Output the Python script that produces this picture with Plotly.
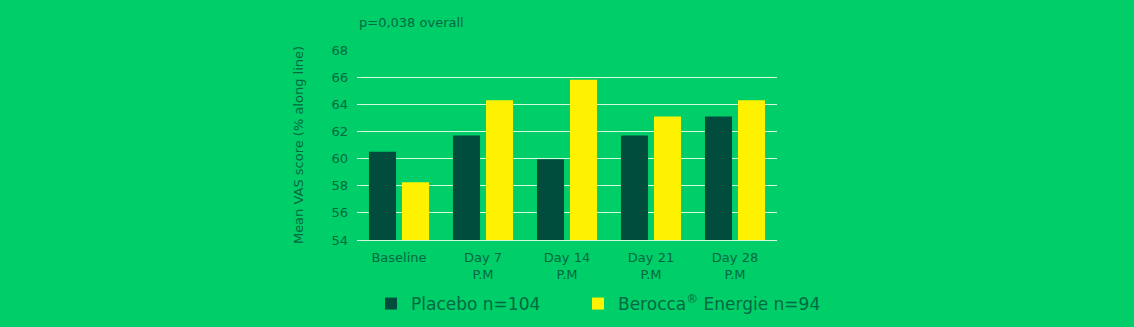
import plotly.graph_objects as go

categories = ["Baseline", "Day 7<br>P.M", "Day 14<br>P.M", "Day 21<br>P.M", "Day 28<br>P.M"]
placebo = [60.5, 61.7, 59.95, 61.7, 63.1]
berocca = [58.25, 64.3, 65.8, 63.1, 64.3]
y_ticks = [54, 56, 58, 60, 62, 64, 66, 68]

BG = "rgb(0,206,104)"
DARK = "rgb(0,77,62)"
YELLOW = "rgb(255,242,0)"
TEXT = "rgb(0,105,65)"
FONT = "DejaVu Sans"

fig = go.Figure()
fig.add_trace(go.Bar(x=categories, y=placebo, name="Placebo n=104", legend="legend",
                     marker=dict(color=DARK, line=dict(width=0))))
fig.add_trace(go.Bar(x=categories, y=berocca, name="Berocca<sup>®</sup> Energie n=94", legend="legend2",
                     marker=dict(color=YELLOW, line=dict(width=0))))

leg_common = dict(orientation="h", xref="container", yref="container", xanchor="left",
                  y=(327 - 304) / 327, yanchor="middle",
                  font=dict(size=17, color=TEXT), bgcolor="rgba(0,0,0,0)")

fig.update_layout(
    width=1134, height=327,
    paper_bgcolor=BG, plot_bgcolor=BG,
    margin=dict(l=357, r=357, t=50, b=87, pad=0, autoexpand=False),
    barmode="group", bargap=0.214, bargroupgap=0.18,
    font=dict(family=FONT, color=TEXT, size=13),
    showlegend=True,
    legend=dict(x=(385 - 14) / 1134, **leg_common),
    legend2=dict(x=(592 - 14) / 1134, **leg_common),
    annotations=[dict(text="p=0,038 overall", xref="paper", yref="paper", x=0, y=1.0,
                      xanchor="left", yanchor="bottom", yshift=18, showarrow=False,
                      font=dict(size=13, color=TEXT))],
)
fig.update_yaxes(range=[54, 68], tickvals=y_ticks, ticktext=[str(v) for v in y_ticks],
                 showgrid=True, gridcolor="rgba(235,255,240,0.9)", gridwidth=1,
                 zeroline=False, showline=False, ticks="", ticklabelstandoff=8, automargin=False,
                 tickfont=dict(size=13, color=TEXT),
                 title=dict(text="Mean VAS score (% along line)", standoff=24,
                            font=dict(size=13, color=TEXT)))
fig.update_xaxes(showgrid=False, showline=True, linecolor="rgba(235,255,240,0.9)", linewidth=1,
                 ticks="", ticklabelstandoff=5, automargin=False, tickfont=dict(size=13, color=TEXT))

fig.write_html("out.html")
